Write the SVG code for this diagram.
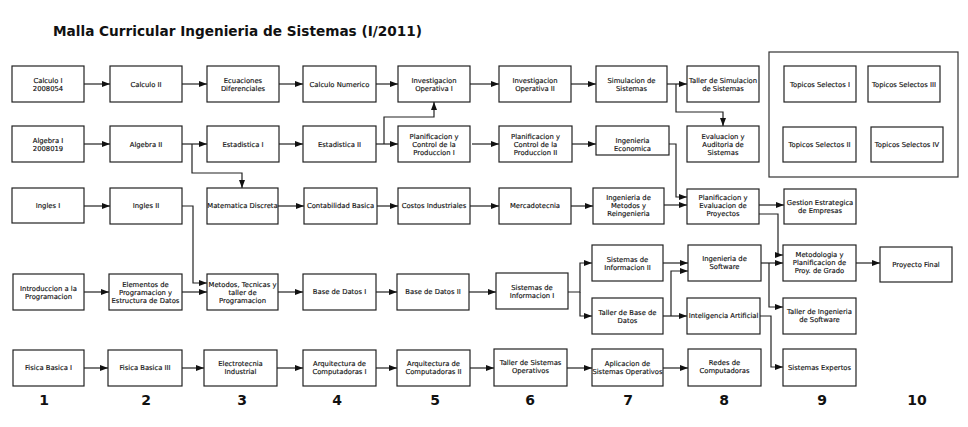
<svg xmlns="http://www.w3.org/2000/svg" width="968" height="427" viewBox="0 0 968 427">
<style>
.b{fill:#fff;stroke:#222;stroke-width:1.2}
.f{fill:none;stroke:#333;stroke-width:1.2}
.t{font-family:"DejaVu Sans","Liberation Sans",sans-serif;font-size:6.8px;text-anchor:middle;fill:#111;stroke:#111;stroke-width:0.15}
.c{fill:none;stroke:#222;stroke-width:1.2}
.a{marker-end:url(#ar)}
.n{font-family:"DejaVu Sans","Liberation Sans",sans-serif;font-size:14px;font-weight:bold;text-anchor:middle;fill:#111}
</style>
<defs>
<marker id="ar" markerWidth="8" markerHeight="6" refX="8" refY="3" orient="auto" markerUnits="userSpaceOnUse"><path d="M0,0 L8,3 L0,6 z" fill="#111"/></marker>
</defs>
<rect width="968" height="427" fill="#fff"/>
<text x="53" y="36" font-family="DejaVu Sans,Verdana,sans-serif" font-size="14.5" font-weight="bold" fill="#111" textLength="369" lengthAdjust="spacingAndGlyphs">Malla Curricular Ingenieria de Sistemas (I/2011)</text>

<g id="connectors">
<path class="c a" d="M84,84H110"/><path class="c a" d="M182,84H207"/><path class="c a" d="M279,84H303"/><path class="c a" d="M376,84H398"/><path class="c a" d="M470,84H499"/><path class="c a" d="M571,84H596"/><path class="c a" d="M667,84H687"/>
<path class="c a" d="M676,84V112H723V126"/>
<path class="c a" d="M84,144H110"/><path class="c a" d="M182,144H207"/><path class="c a" d="M279,144H303"/><path class="c a" d="M376,144H398"/><path class="c a" d="M472,144H499"/><path class="c a" d="M572,144H596"/>
<path class="c a" d="M192,144V173H242V188"/>
<path class="c a" d="M384,144V117H434V102"/>
<path class="c a" d="M669,144H676V197H687"/>
<path class="c a" d="M84,206H110"/><path class="c a" d="M278,206H304"/><path class="c a" d="M377,206H398"/><path class="c a" d="M470,206H499"/><path class="c a" d="M571,206H593"/>
<path class="c a" d="M664,205H687"/><path class="c a" d="M759,205H784"/>
<path class="c a" d="M182,206H193V283H207"/>
<path class="c a" d="M759,214H778V255H783"/>
<path class="c a" d="M84,292H109"/><path class="c a" d="M182,292H207"/><path class="c a" d="M278,292H303"/><path class="c a" d="M376,292H397"/><path class="c a" d="M469,292H496"/>
<path class="c a" d="M568,292H580V263H592"/><path class="c a" d="M580,292V316H592"/>
<path class="c a" d="M663,263H688"/><path class="c a" d="M663,316H687"/>
<path class="c a" d="M671,316V271H688"/>
<path class="c a" d="M761,263H783"/><path class="c a" d="M769,263V307H783"/>
<path class="c a" d="M760,316H771V367H783"/>
<path class="c a" d="M856,263H880"/>
<path class="c a" d="M84,368H108"/><path class="c a" d="M182,368H204"/><path class="c a" d="M277,368H303"/><path class="c a" d="M376,368H397"/><path class="c a" d="M470,368H494"/><path class="c a" d="M567,368H592"/><path class="c a" d="M663,368H688"/>
</g>

<g id="topicos-frame"><rect class="f" x="769" y="52" width="189" height="125"/></g>

<g id="calculo1"><rect class="b" x="12" y="66" width="72" height="36"/><text class="t" x="48" y="83">Calculo I</text><text class="t" x="48" y="91">2008054</text></g>
<g id="calculo2"><rect class="b" x="110" y="66" width="72" height="36"/><text class="t" x="146" y="87">Calculo II</text></g>
<g id="ecuaciones"><rect class="b" x="207" y="66" width="72" height="36"/><text class="t" x="243" y="83">Ecuaciones</text><text class="t" x="243" y="91">Diferenciales</text></g>
<g id="calcnum"><rect class="b" x="303" y="66" width="73" height="36"/><text class="t" x="339.5" y="87">Calculo Numerico</text></g>
<g id="invop1"><rect class="b" x="398" y="66" width="72" height="36"/><text class="t" x="434" y="83">Investigacion</text><text class="t" x="434" y="91">Operativa I</text></g>
<g id="invop2"><rect class="b" x="499" y="66" width="72" height="36"/><text class="t" x="535" y="83">Investigacion</text><text class="t" x="535" y="91">Operativa II</text></g>
<g id="simulacion"><rect class="b" x="596" y="66" width="71" height="36"/><text class="t" x="631.5" y="83">Simulacion de</text><text class="t" x="631.5" y="91">Sistemas</text></g>
<g id="tallersim"><rect class="b" x="687" y="66" width="72" height="36"/><text class="t" x="723" y="83">Taller de Simulacion</text><text class="t" x="723" y="91">de Sistemas</text></g>
<g id="topicos1"><rect class="b" x="784" y="66" width="72" height="36"/><text class="t" x="820" y="87">Topicos Selectos I</text></g>
<g id="topicos3"><rect class="b" x="868" y="66" width="72" height="36"/><text class="t" x="904" y="87">Topicos Selectos III</text></g>
<g id="topicos2"><rect class="b" x="783" y="127" width="73" height="35"/><text class="t" x="819.5" y="147">Topicos Selectos II</text></g>
<g id="topicos4"><rect class="b" x="871" y="127" width="72" height="35"/><text class="t" x="907" y="147">Topicos Selectos IV</text></g>

<g id="algebra1"><rect class="b" x="12" y="126" width="72" height="36"/><text class="t" x="48" y="143">Algebra I</text><text class="t" x="48" y="151">2008019</text></g>
<g id="algebra2"><rect class="b" x="110" y="126" width="72" height="36"/><text class="t" x="146" y="147">Algebra II</text></g>
<g id="estad1"><rect class="b" x="207" y="126" width="72" height="36"/><text class="t" x="243" y="147">Estadistica I</text></g>
<g id="estad2"><rect class="b" x="303" y="126" width="73" height="36"/><text class="t" x="339.5" y="147">Estadistica II</text></g>
<g id="plan1"><rect class="b" x="398" y="126" width="72" height="36"/><text class="t" x="434" y="139">Planificacion y</text><text class="t" x="434" y="147">Control de la</text><text class="t" x="434" y="155">Produccion I</text></g>
<g id="plan2"><rect class="b" x="499" y="126" width="73" height="36"/><text class="t" x="535.5" y="139">Planificacion y</text><text class="t" x="535.5" y="147">Control de la</text><text class="t" x="535.5" y="155">Produccion II</text></g>
<g id="ingecon"><rect class="b" x="596" y="126" width="73" height="29"/><text class="t" x="632.5" y="143">Ingenieria</text><text class="t" x="632.5" y="151">Economica</text></g>
<g id="evaluacion"><rect class="b" x="687" y="126" width="72" height="36"/><text class="t" x="723" y="139">Evaluacion y</text><text class="t" x="723" y="147">Auditoria de</text><text class="t" x="723" y="155">Sistemas</text></g>

<g id="ingles1"><rect class="b" x="12" y="188" width="72" height="35"/><text class="t" x="48" y="208">Ingles I</text></g>
<g id="ingles2"><rect class="b" x="110" y="188" width="72" height="36"/><text class="t" x="146" y="208">Ingles II</text></g>
<g id="matdisc"><rect class="b" x="207" y="188" width="71" height="36"/><text class="t" x="242.5" y="208">Matematica Discreta</text></g>
<g id="contab"><rect class="b" x="304" y="188" width="73" height="36"/><text class="t" x="340.5" y="208">Contabilidad Basica</text></g>
<g id="costos"><rect class="b" x="398" y="188" width="72" height="36"/><text class="t" x="434" y="208">Costos Industriales</text></g>
<g id="mercado"><rect class="b" x="499" y="188" width="72" height="36"/><text class="t" x="535" y="208">Mercadotecnia</text></g>
<g id="ingmetodos"><rect class="b" x="593" y="188" width="71" height="36"/><text class="t" x="628.5" y="200">Ingenieria de</text><text class="t" x="628.5" y="208">Metodos y</text><text class="t" x="628.5" y="216">Reingenieria</text></g>
<g id="planeval"><rect class="b" x="687" y="189" width="72" height="35"/><text class="t" x="723" y="200">Planificacion y</text><text class="t" x="723" y="208">Evaluacion de</text><text class="t" x="723" y="216">Proyectos</text></g>
<g id="gestion"><rect class="b" x="784" y="189" width="72" height="35"/><text class="t" x="820" y="205">Gestion Estrategica</text><text class="t" x="820" y="213">de Empresas</text></g>

<g id="intro"><rect class="b" x="13" y="274" width="71" height="36"/><text class="t" x="48.5" y="291">Introduccion a la</text><text class="t" x="48.5" y="299">Programacion</text></g>
<g id="elementos"><rect class="b" x="109" y="274" width="73" height="36"/><text class="t" x="145.5" y="287">Elementos de</text><text class="t" x="145.5" y="295">Programacion y</text><text class="t" x="145.5" y="303">Estructura de Datos</text></g>
<g id="metodos"><rect class="b" x="207" y="274" width="71" height="36"/><text class="t" x="242.5" y="287">Metodos, Tecnicas y</text><text class="t" x="242.5" y="295">taller de</text><text class="t" x="242.5" y="303">Programacion</text></g>
<g id="bd1"><rect class="b" x="303" y="274" width="73" height="36"/><text class="t" x="339.5" y="294">Base de Datos I</text></g>
<g id="bd2"><rect class="b" x="397" y="274" width="72" height="36"/><text class="t" x="433" y="294">Base de Datos II</text></g>
<g id="si1"><rect class="b" x="496" y="273" width="72" height="36"/><text class="t" x="532" y="290">Sistemas de</text><text class="t" x="532" y="298">Informacion I</text></g>
<g id="si2"><rect class="b" x="592" y="245" width="71" height="36"/><text class="t" x="627.5" y="262">Sistemas de</text><text class="t" x="627.5" y="270">Informacion II</text></g>
<g id="tallerbd"><rect class="b" x="592" y="298" width="71" height="36"/><text class="t" x="627.5" y="315">Taller de Base de</text><text class="t" x="627.5" y="323">Datos</text></g>
<g id="ingsw"><rect class="b" x="688" y="245" width="73" height="36"/><text class="t" x="724.5" y="261">Ingenieria de</text><text class="t" x="724.5" y="269">Software</text></g>
<g id="ia"><rect class="b" x="687" y="298" width="73" height="36"/><text class="t" x="723.5" y="318">Inteligencia Artificial</text></g>
<g id="metodologia"><rect class="b" x="783" y="245" width="73" height="36"/><text class="t" x="819.5" y="257">Metodologia y</text><text class="t" x="819.5" y="265">Planificacion de</text><text class="t" x="819.5" y="273">Proy. de Grado</text></g>
<g id="tallerisw"><rect class="b" x="783" y="298" width="73" height="36"/><text class="t" x="819.5" y="314">Taller de Ingenieria</text><text class="t" x="819.5" y="322">de Software</text></g>
<g id="proyecto"><rect class="b" x="880" y="247" width="72" height="35"/><text class="t" x="916" y="267">Proyecto Final</text></g>

<g id="fisica1"><rect class="b" x="13" y="350" width="71" height="36"/><text class="t" x="48.5" y="370">Fisica Basica I</text></g>
<g id="fisica3"><rect class="b" x="108" y="350" width="74" height="36"/><text class="t" x="145" y="370">Fisica Basica III</text></g>
<g id="electro"><rect class="b" x="204" y="350" width="73" height="36"/><text class="t" x="240.5" y="366">Electrotecnia</text><text class="t" x="240.5" y="374">Industrial</text></g>
<g id="arq1"><rect class="b" x="303" y="350" width="73" height="36"/><text class="t" x="339.5" y="366">Arquitectura de</text><text class="t" x="339.5" y="374">Computadoras I</text></g>
<g id="arq2"><rect class="b" x="397" y="350" width="73" height="36"/><text class="t" x="433.5" y="366">Arquitectura de</text><text class="t" x="433.5" y="374">Computadoras II</text></g>
<g id="tallerso"><rect class="b" x="494" y="349" width="73" height="37"/><text class="t" x="530.5" y="365">Taller de Sistemas</text><text class="t" x="530.5" y="373">Operativos</text></g>
<g id="aplicso"><rect class="b" x="592" y="349" width="71" height="37"/><text class="t" x="627.5" y="366">Aplicacion de</text><text class="t" x="627.5" y="374">Sistemas Operativos</text></g>
<g id="redes"><rect class="b" x="688" y="349" width="73" height="37"/><text class="t" x="724.5" y="365">Redes de</text><text class="t" x="724.5" y="373">Computadoras</text></g>
<g id="sisexp"><rect class="b" x="783" y="349" width="73" height="37"/><text class="t" x="819.5" y="370">Sistemas Expertos</text></g>

<g id="semesters">
<text class="n" x="44" y="405">1</text><text class="n" x="146" y="405">2</text><text class="n" x="242" y="405">3</text><text class="n" x="337" y="405">4</text><text class="n" x="435" y="405">5</text><text class="n" x="530" y="405">6</text><text class="n" x="628" y="405">7</text><text class="n" x="724" y="405">8</text><text class="n" x="822" y="405">9</text><text class="n" x="917" y="405">10</text>
</g>
</svg>
